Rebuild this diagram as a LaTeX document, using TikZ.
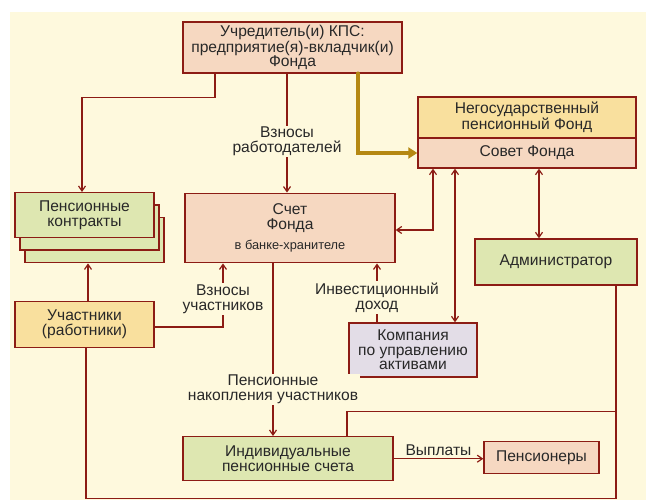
\documentclass[tikz,border=0pt]{standalone}
\usepackage{fontspec}
\setmainfont{Liberation Sans}
\usepackage{tikz}
\usetikzlibrary{arrows.meta,calc}
\definecolor{bgyellow}{RGB}{254, 249, 221}
\definecolor{boxred}{RGB}{140, 28, 20}
\definecolor{salmon}{RGB}{246, 216, 193}
\definecolor{sand}{RGB}{249, 224, 158}
\definecolor{lightgreen}{RGB}{222, 231, 177}
\definecolor{lavender}{RGB}{227, 221, 231}
\definecolor{goldline}{RGB}{181, 136, 18}
\definecolor{textgray}{RGB}{40, 40, 40}
\newcommand\boxfont{\fontsize{15.6}{14.5}\selectfont}

\begin{document}
\begin{tikzpicture}[x=1pt,y=-1pt,
    box/.style={draw=boxred,line width=1.4pt,align=center,inner sep=0pt,font=\boxfont,text=textgray},
    conn/.style={draw=boxred,line width=1.2pt,>={Straight Barb[length=5pt,width=7pt]}},
    lbl/.style={fill=bgyellow,inner sep=1.5pt,align=center,font=\boxfont,text=textgray},
    goldarrow/.style={draw=goldline,line width=4.5pt,line cap=round,-{Triangle[length=9pt,width=11pt]}}]
        \useasboundingbox (0,0) rectangle (646,502);
        \fill[bgyellow] (10,12) rectangle (646,500);

        \coordinate (v1) at (292.5,47.5);
        \coordinate (v2) at (527,117.5);
        \coordinate (v3) at (527,153);
        \coordinate (v4) at (84.5,215.2);
        \coordinate (v5) at (290,228);
        \coordinate (v6) at (556,262);
        \coordinate (v7) at (84.5,324.5);
        \coordinate (v8) at (413,350);
        \coordinate (v9) at (288,458.7);
        \coordinate (v10) at (541.5,457.5);

        \node[box,fill=salmon,minimum width=219pt,minimum height=51pt] (FounderNode) at (v1) {Учредитель(и) КПС:\\предприятие(я)-вкладчик(и)\\Фонда};
        \node[box,fill=sand,minimum width=218pt,minimum height=41pt] (FundNode) at (v2) {Негосударственный\\пенсионный Фонд};
        \node[box,fill=salmon,minimum width=218pt,minimum height=30pt] (CouncilNode) at (v3) {Совет Фонда};
        \node[box,fill=lightgreen,minimum width=139pt,minimum height=45pt] (ContractsBackB) at ($(v4)+(10,25)$) {};
        \node[box,fill=lightgreen,minimum width=139pt,minimum height=45pt] (ContractsBackA) at ($(v4)+(5,12.5)$) {};
        \node[box,fill=lightgreen,minimum width=139pt,minimum height=45pt] (ContractsNode) at (v4) {Пенсионные\\контракты};
        \node[box,fill=salmon,minimum width=210pt,minimum height=69.5pt] (AccountNode) at (v5) {Счет\\Фонда\\[6pt]{\fontsize{12.8}{13}\selectfont в банке-хранителе}};
        \node[box,fill=lightgreen,minimum width=162pt,minimum height=46pt] (AdminNode) at (v6) {Администратор};
        \node[box,fill=sand,minimum width=139pt,minimum height=45.6pt] (MembersNode) at (v7) {Участники\\(работники)};
        \node[box,fill=lavender,minimum width=128pt,minimum height=54pt] (CompanyNode) at (v8) {Компания\\по управлению\\активами};
        \node[box,fill=lightgreen,minimum width=210pt,minimum height=44pt] (IndividualNode) at (v9) {Индивидуальные\\пенсионные счета};
        \node[box,fill=salmon,minimum width=115pt,minimum height=31.6pt] (PensionersNode) at (v10) {Пенсионеры};

        % founder
        \draw[conn,->] ([xshift=-77.5pt]FounderNode.south) -- ++(0,24) -| ([xshift=-2.5pt]ContractsNode.north);
        \draw[conn,->] ([xshift=-5.5pt]FounderNode.south) -- node[lbl,pos=0.57]{Взносы\\работодателей} ([xshift=-3pt]AccountNode.north);
        \draw[goldarrow] ([xshift=65.5pt]FounderNode.south) |- (CouncilNode.west);

        % council
        \draw[conn,<->] ([xshift=-94pt]CouncilNode.south) |- ([yshift=-2pt]AccountNode.east);
        \draw[conn,<->] ([xshift=-72pt]CouncilNode.south) -- ([xshift=42pt]CompanyNode.north);
        \draw[conn,<->] ([xshift=12pt]CouncilNode.south) -- ([xshift=-17pt]AdminNode.north);

        % members and account
        \draw[conn,->] ([xshift=3.5pt]MembersNode.north) -- ([xshift=-6.5pt]ContractsBackB.south);
        \draw[conn,->] ([yshift=-2.5pt]MembersNode.east) -| node[lbl,pos=0.72]{Взносы\\участников} ([xshift=-67pt]AccountNode.south);
        \draw[conn,->] ([xshift=-36pt]CompanyNode.north) -- node[lbl,pos=0.42]{Инвестиционный\\доход} ([xshift=87pt]AccountNode.south);
        \draw[conn,->] ([xshift=-17pt]AccountNode.south) -- node[lbl,pos=0.73]{Пенсионные\\накопления участников} ([xshift=-15pt]IndividualNode.north);

        % administrator
        \draw[conn] ([xshift=60pt]AdminNode.south) -- ++(0,213) -| ([xshift=1.5pt]MembersNode.south);
        \draw[conn] ([xshift=59pt]IndividualNode.north) -- ++(0,-24.7) -| ([xshift=60pt]AdminNode.south);

        % payments
        \draw[conn,->] (IndividualNode.east) -- node[lbl,above=1pt,fill=none]{Выплаты} (IndividualNode.east -| PensionersNode.west);
\end{tikzpicture}
\end{document}
